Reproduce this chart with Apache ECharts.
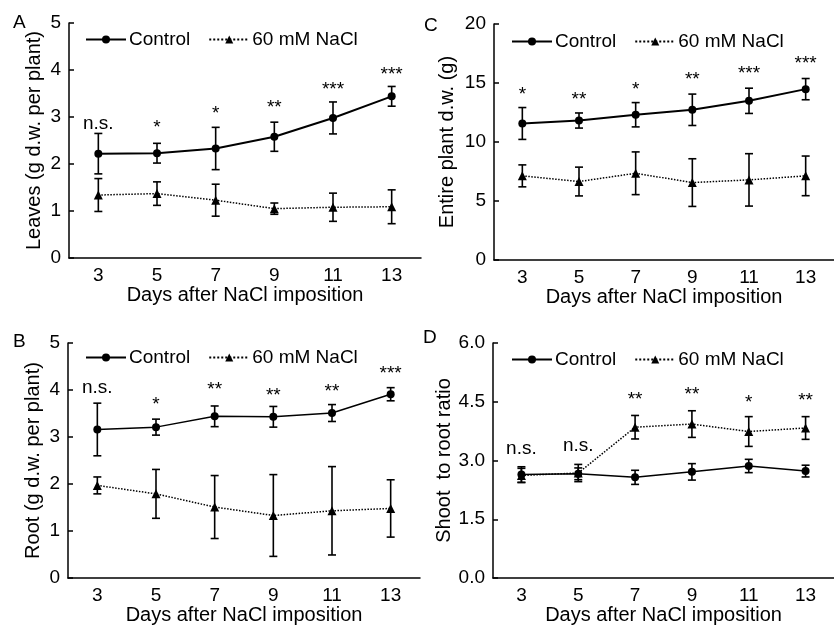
<!DOCTYPE html>
<html>
<head>
<meta charset="utf-8">
<script src="https://cdn.jsdelivr.net/npm/echarts@6/dist/echarts.min.js"></script>
<style>html,body{margin:0;padding:0;background:#fff}#c{width:834px;height:628px}</style>
</head>
<body>
<div id="c"></div>
<script>
const days = ['3', '5', '7', '9', '11', '13'];

// Panel A: Leaves
const leavesControl = [2.22, 2.23, 2.33, 2.58, 2.98, 3.44];
const leavesControlErr = [0.43, 0.21, 0.45, 0.31, 0.34, 0.21];
const leavesNaCl = [1.34, 1.37, 1.23, 1.05, 1.08, 1.09];
const leavesNaClErr = [0.35, 0.25, 0.34, 0.12, 0.30, 0.36];
const leavesSig = ['n.s.', '*', '*', '**', '***', '***'];
const leavesSigY = [2.84, 2.86, 3.16, 3.28, 3.67, 3.99];

// Panel B: Root
const rootControl = [3.16, 3.21, 3.44, 3.43, 3.51, 3.91];
const rootControlErr = [0.56, 0.17, 0.22, 0.22, 0.18, 0.14];
const rootNaCl = [1.97, 1.79, 1.51, 1.33, 1.43, 1.48];
const rootNaClErr = [0.18, 0.52, 0.67, 0.87, 0.94, 0.61];
const rootSig = ['n.s.', '*', '**', '**', '**', '***'];
const rootSigY = [4.03, 3.77, 4.10, 3.96, 4.04, 4.43];

// Panel C: Entire plant
const plantControl = [11.57, 11.82, 12.31, 12.73, 13.49, 14.48];
const plantControlErr = [1.35, 0.64, 1.03, 1.33, 1.07, 0.90];
const plantNaCl = [7.13, 6.65, 7.35, 6.56, 6.79, 7.13];
const plantNaClErr = [0.93, 1.22, 1.81, 2.02, 2.22, 1.68];
const plantSig = ['*', '**', '*', '**', '***', '***'];
const plantSigY = [14.37, 13.92, 14.77, 15.60, 16.10, 16.97];

// Panel D: Shoot to root ratio
const ratioControl = [2.64, 2.66, 2.57, 2.71, 2.86, 2.73];
const ratioControlErr = [0.20, 0.15, 0.18, 0.21, 0.17, 0.15];
const ratioNaCl = [2.62, 2.68, 3.85, 3.93, 3.74, 3.83];
const ratioNaClErr = [0.18, 0.22, 0.30, 0.34, 0.38, 0.29];
const ratioSig = ['n.s.', 'n.s.', '**', '**', '*', '**'];
const ratioSigY = [3.28, 3.36, 4.66, 4.77, 4.57, 4.64];

const FONT = 'Liberation Sans, Arial, sans-serif';
const FS_NAME = 20;
const FS_TICK = 19;
const FS_LEG = 19;

const panels = [
  {letter: 'A', yName: 'Leaves (g d.w. per plant)', min: 0, max: 5, interval: 1, dec: 0,
   grid: {left: 69, top: 23, width: 352, height: 235}, nameGap: 25, lw: 2,
   c: leavesControl, ce: leavesControlErr, n: leavesNaCl, ne: leavesNaClErr, sig: leavesSig, sigY: leavesSigY,
   legend: {left: 80, top: 25}, lpos: [13, 13]},
  {letter: 'C', yName: 'Entire plant d.w. (g)', min: 0, max: 20, interval: 5, dec: 0,
   grid: {left: 494, top: 24, width: 352, height: 236}, nameGap: 37, lw: 2,
   c: plantControl, ce: plantControlErr, n: plantNaCl, ne: plantNaClErr, sig: plantSig, sigY: plantSigY,
   legend: {left: 506, top: 27}, lpos: [424, 16]},
  {letter: 'B', yName: 'Root (g d.w. per plant)', min: 0, max: 5, interval: 1, dec: 0,
   grid: {left: 68, top: 343, width: 352, height: 235}, nameGap: 25, lw: 1.5,
   c: rootControl, ce: rootControlErr, n: rootNaCl, ne: rootNaClErr, sig: rootSig, sigY: rootSigY,
   legend: {left: 80, top: 343}, lpos: [13, 332]},
  {letter: 'D', yName: 'Shoot  to root ratio', min: 0, max: 6, interval: 1.5, dec: 1,
   grid: {left: 493, top: 343, width: 352, height: 235}, nameGap: 39, lw: 1.5,
   c: ratioControl, ce: ratioControlErr, n: ratioNaCl, ne: ratioNaClErr, sig: ratioSig, sigY: ratioSigY,
   legend: {left: 506, top: 345}, lpos: [423, 328]}
];

function errItem(params, api) {
  const x = api.value(0);
  const lo = api.coord([x, api.value(1)]);
  const hi = api.coord([x, api.value(2)]);
  const w = 4;
  const st = {stroke: '#000', lineWidth: 1.6};
  return {type: 'group', children: [
    {type: 'line', shape: {x1: hi[0], y1: hi[1], x2: lo[0], y2: lo[1]}, style: st},
    {type: 'line', shape: {x1: hi[0] - w, y1: hi[1], x2: hi[0] + w, y2: hi[1]}, style: st},
    {type: 'line', shape: {x1: lo[0] - w, y1: lo[1], x2: lo[0] + w, y2: lo[1]}, style: st}
  ]};
}

const option = {
  animation: false,
  backgroundColor: '#fff',
  textStyle: {fontFamily: FONT, color: '#000'},
  grid: [], xAxis: [], yAxis: [], legend: [], series: [], graphic: []
};

panels.forEach((p, k) => {
  option.grid.push(Object.assign({containLabel: false}, p.grid));
  option.xAxis.push({
    type: 'category', gridIndex: k, data: days, boundaryGap: true,
    name: 'Days after NaCl imposition', nameLocation: 'middle', nameGap: 22,
    nameTextStyle: {fontSize: FS_NAME, color: '#000', fontFamily: FONT, verticalAlign: 'top'},
    axisLine: {lineStyle: {color: '#000', width: 1.5}},
    axisTick: {inside: true, length: 5, lineStyle: {color: '#000', width: 1.5}},
    axisLabel: {fontSize: FS_TICK, color: '#000', fontFamily: FONT, margin: 8},
    splitLine: {show: false}
  });
  option.yAxis.push({
    type: 'value', gridIndex: k, min: p.min, max: p.max, interval: p.interval,
    name: p.yName, nameLocation: 'middle', nameGap: p.nameGap, nameRotate: 90,
    nameTextStyle: {fontSize: FS_NAME, color: '#000', fontFamily: FONT},
    axisLine: {show: true, lineStyle: {color: '#000', width: 1.5}},
    axisTick: {show: true, inside: true, length: 5, lineStyle: {color: '#000', width: 1.5}},
    axisLabel: {fontSize: FS_TICK, color: '#000', fontFamily: FONT, margin: 8,
      formatter: v => v.toFixed(p.dec)},
    splitLine: {show: false}
  });
  option.legend.push({
    left: p.legend.left, top: p.legend.top, orient: 'horizontal',
    data: ['Control', '60 mM NaCl'],
    itemWidth: 40, itemHeight: 10, itemGap: 18,
    textStyle: {fontSize: FS_LEG, color: '#000', fontFamily: FONT, padding: [0, 0, 0, -2]},
    selectedMode: false
  });
  option.series.push({
    type: 'line', name: 'Control', xAxisIndex: k, yAxisIndex: k, data: p.c,
    symbol: 'circle', symbolSize: 8, z: 5,
    itemStyle: {color: '#000'}, lineStyle: {color: '#000', width: p.lw, type: 'solid'}
  });
  option.series.push({
    type: 'line', name: '60 mM NaCl', xAxisIndex: k, yAxisIndex: k, data: p.n,
    symbol: 'triangle', symbolSize: 9, z: 5,
    itemStyle: {color: '#000'}, lineStyle: {color: '#000', width: 1.5, type: 'dotted'}
  });
  option.series.push({
    type: 'custom', xAxisIndex: k, yAxisIndex: k, renderItem: errItem, z: 4,
    encode: {x: 0, y: [1, 2]},
    data: p.c.map((v, i) => [i, v - p.ce[i], v + p.ce[i]])
  });
  option.series.push({
    type: 'custom', xAxisIndex: k, yAxisIndex: k, renderItem: errItem, z: 4,
    encode: {x: 0, y: [1, 2]},
    data: p.n.map((v, i) => [i, v - p.ne[i], v + p.ne[i]])
  });
  option.series.push({
    type: 'scatter', xAxisIndex: k, yAxisIndex: k, symbolSize: 0, silent: true, z: 6,
    itemStyle: {opacity: 1, color: '#000'},
    data: p.sig.map((s, i) => ({
      value: [i, p.sigY[i]],
      label: {
        show: true, position: 'inside', formatter: s, opacity: 1,
        fontSize: s.charAt(0) === '*' ? 19 : FS_TICK, color: '#000', fontFamily: FONT,
        offset: [0, s.charAt(0) === '*' ? 4 : -1]
      }
    }))
  });
  option.graphic.push({
    type: 'text', left: p.lpos[0], top: p.lpos[1],
    style: {text: p.letter, fontSize: 19, fill: '#000', fontFamily: FONT}
  });
});

const chart = echarts.init(document.getElementById('c'), null, {renderer: 'canvas'});
chart.setOption(option);
</script>
</body>
</html>
